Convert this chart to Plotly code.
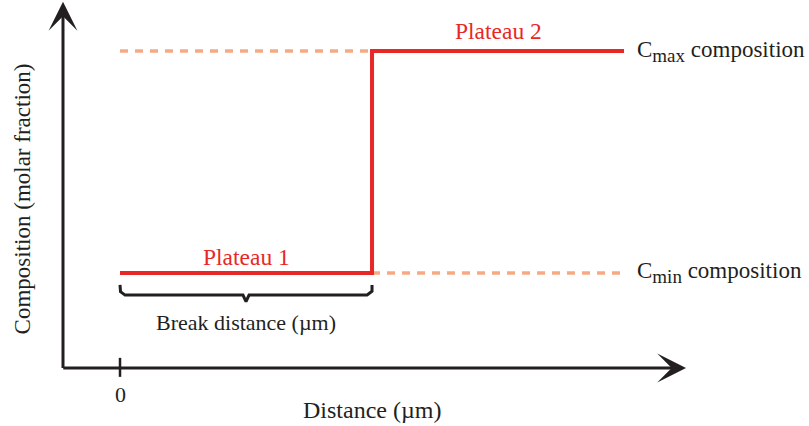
import numpy as np
import plotly.graph_objects as go

# schematic values (distance in units of the break distance)
distance = [0, 1, 2]
composition = [0.3, 1.0, 1.0]
c_min = 0.3
c_max = 1.0
break_start = 0
break_end = 1
x_ticks = [0]
x_tick_labels = ['0']

RED = 'rgb(232,40,38)'
ORANGE = 'rgb(246,170,132)'
INK = '#231f20'
FONT = 'Liberation Serif'

# axis ends (data units) and full-figure ranges
ax_x0, ax_x1 = -0.2262, 2.246
ax_y1 = 1.155
x_lo, x_hi = -0.4762, 2.734
y_lo, y_hi = -0.183, 1.1609

fig = go.Figure()

# dashed reference levels
fig.add_trace(go.Scatter(
	x = [break_start, break_end], y = [c_max, c_max],
	mode = 'lines',
	line = dict(color = ORANGE, width = 3.5, dash = '8px,7px'),
	hoverinfo = 'skip'
))
fig.add_trace(go.Scatter(
	x = [break_end, distance[-1]], y = [c_min, c_min],
	mode = 'lines',
	line = dict(color = ORANGE, width = 3.5, dash = '8px,7px'),
	hoverinfo = 'skip'
))

# step profile
fig.add_trace(go.Scatter(
	x = distance, y = composition,
	mode = 'lines',
	line = dict(color = RED, width = 4, shape = 'hv'),
	hoverinfo = 'skip'
))

# curly brace under plateau 1
top = c_min - 0.038
flat = c_min - 0.07
tip = c_min - 0.091
r = 0.02
t = np.linspace(0, np.pi / 2, 8)
bx = [break_start, break_start]
by = [top, flat + 0.012]
bx += list(break_start + r * (1 - np.cos(t)))
by += list(flat + 0.012 * np.cos(t))
mid = (break_start + break_end) / 2
bx += [mid - 0.012, mid, mid + 0.012]
by += [flat, tip, flat]
bx += list(break_end - r * (1 - np.cos(t[::-1])))
by += list(flat + 0.012 * np.cos(t[::-1]))
bx += [break_end, break_end]
by += [flat + 0.012, top]
fig.add_trace(go.Scatter(
	x = bx, y = by,
	mode = 'lines',
	line = dict(color = INK, width = 3),
	hoverinfo = 'skip'
))

# tick at origin of distance
for xv in x_ticks:
	fig.add_shape(type = 'line', x0 = xv, x1 = xv, y0 = -0.028, y1 = 0.032,
		xref = 'x', yref = 'y', line = dict(color = INK, width = 2.5))

# axes with arrowheads
fig.add_annotation(x = ax_x0, y = ax_y1, ax = ax_x0, ay = -0.005, xref = 'x', yref = 'y',
	axref = 'x', ayref = 'y', text = '', showarrow = True, arrowhead = 3,
	arrowsize = 1.6, arrowwidth = 3, arrowcolor = INK, standoff = 0)
fig.add_annotation(x = ax_x1, y = 0, ax = ax_x0 - 0.005, ay = 0, xref = 'x', yref = 'y',
	axref = 'x', ayref = 'y', text = '', showarrow = True, arrowhead = 3,
	arrowsize = 1.6, arrowwidth = 3, arrowcolor = INK, standoff = 0)

def label(x, y, text, color = INK, anchor = 'center', angle = 0, size = 22):
	fig.add_annotation(x = x, y = y, xref = 'x', yref = 'y', text = text,
		showarrow = False, xanchor = anchor, yanchor = 'middle', textangle = angle,
		font = dict(family = FONT, size = size, color = color))

label(0.5, 0.35, 'Plateau 1', RED, size = 23.5)
label(1.5, 1.062, 'Plateau 2', RED, size = 23.5)
label(2.045, c_max, 'C<sub><span style="font-size:19px">max</span></sub> composition', anchor = 'left', size = 23)
label(2.045, c_min, 'C<sub><span style="font-size:19px">min</span></sub> composition', anchor = 'left', size = 23)
label(0.5, 0.142, 'Break distance (µm)')
for xv, txt in zip(x_ticks, x_tick_labels):
	label(xv, -0.085, txt)
label(1.0, -0.132, 'Distance (µm)', size = 24)
label(-0.389, 0.535, 'Composition (molar fraction)', angle = -90, size = 23)

fig.update_layout(
	width = 809, height = 426,
	margin = dict(l = 0, r = 0, t = 0, b = 0),
	paper_bgcolor = 'white', plot_bgcolor = 'white',
	showlegend = False,
	xaxis = dict(range = [x_lo, x_hi], visible = False),
	yaxis = dict(range = [y_lo, y_hi], visible = False),
)

fig.write_html('out.html', config = {'displayModeBar': False},
	post_script = "document.body.style.margin='0px';")
